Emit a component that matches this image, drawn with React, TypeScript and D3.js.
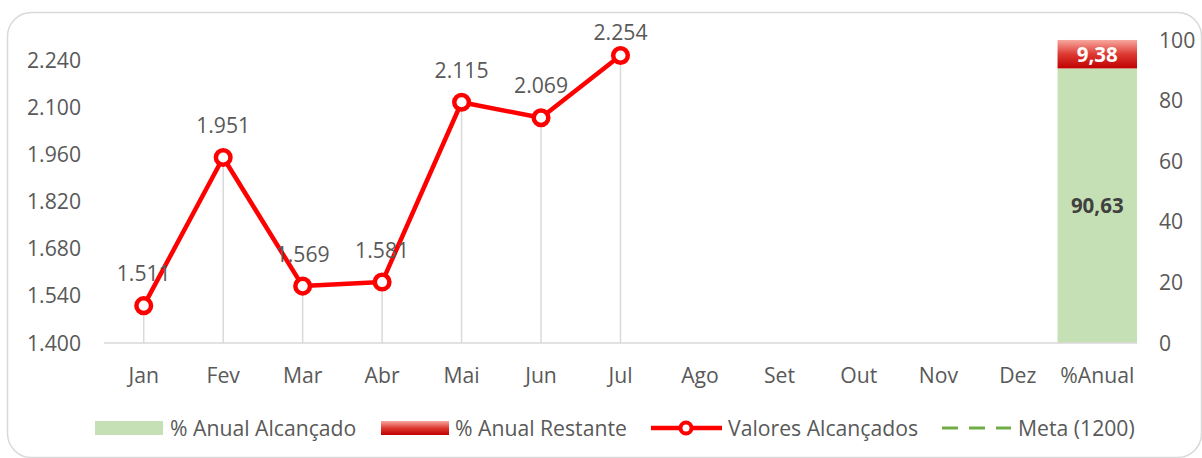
import React from "react";
import * as d3 from "d3";

const categories = ["Jan", "Fev", "Mar", "Abr", "Mai", "Jun", "Jul", "Ago", "Set", "Out", "Nov", "Dez", "%Anual"];
const lineMonths = ["Jan", "Fev", "Mar", "Abr", "Mai", "Jun", "Jul"];
const lineValues = [1511, 1951, 1569, 1581, 2115, 2069, 2254];
const annualReached = 90.63;
const annualRemaining = 9.38;
const meta = 1200;
const leftTicks = [1400, 1540, 1680, 1820, 1960, 2100, 2240];
const rightTicks = [0, 20, 40, 60, 80, 100];

const W = 1202;
const H = 458;
const plotLeft = 104;
const plotRight = 1137;
const plotTop = 40;
const plotBottom = 343;

const FONT = "'Open Sans', 'Liberation Sans', sans-serif";
const GRAY = "#595959";
const FS = 21.2;

const locale = d3.formatLocale({ decimal: ",", thousands: ".", grouping: [3], currency: ["R$", ""] });
const fmtThousands = locale.format(",.0f");
const fmtDec = locale.format(".2f");

export default function App() {
  const x = d3.scaleBand<string>().domain(categories).range([plotLeft, plotRight]).paddingInner(0).paddingOuter(0);
  const yL = d3.scaleLinear().domain([1400, 2300]).range([plotBottom, plotTop]);
  const yR = d3.scaleLinear().domain([0, 100]).range([plotBottom, plotTop]);
  const cx = (c: string) => (x(c) as number) + x.bandwidth() / 2;

  const pts = lineMonths.map((m, i) => [cx(m), yL(lineValues[i])] as [number, number]);
  const linePath = d3.line()(pts) as string;
  const metaVisible = meta >= 1400;

  const barX = x("%Anual") as number;
  const bw = x.bandwidth();
  const gTop = yR(annualReached);
  const rTop = yR(annualReached + annualRemaining);

  return (
    <svg width={W} height={H} style={{ position: "absolute", left: 0, top: 0, background: "#fff" }} fontFamily={FONT}>
      <defs>
        <linearGradient id="redGrad" x1="0" y1="0" x2="0" y2="1">
          <stop offset="0%" stopColor="#f7a89e" />
          <stop offset="50%" stopColor="#dd3a33" />
          <stop offset="100%" stopColor="#c00000" />
        </linearGradient>
      </defs>
      <rect x={7.5} y={12.5} width={1194} height={445} rx={24} ry={24} fill="#fff" stroke="#d9d9d9" strokeWidth={1.5} />

      {leftTicks.map((t) => (
        <text key={"l" + t} x={81} y={yL(t)} dy="0.36em" textAnchor="end" fontSize={FS} fill={GRAY}>
          {fmtThousands(t)}
        </text>
      ))}
      {rightTicks.map((t) => (
        <text key={"r" + t} x={1159} y={yR(t)} dy="0.36em" textAnchor="start" fontSize={FS} fill={GRAY}>
          {t}
        </text>
      ))}

      <rect x={barX} y={gTop} width={bw} height={plotBottom - gTop} fill="#c5e0b4" />
      <rect x={barX} y={rTop} width={bw} height={gTop - rTop} fill="url(#redGrad)" />

      <line x1={plotLeft} x2={plotRight} y1={plotBottom} y2={plotBottom} stroke="#d9d9d9" strokeWidth={1.5} />

      {pts.map((p, i) => (
        <line key={"d" + i} x1={p[0]} x2={p[0]} y1={p[1]} y2={plotBottom} stroke="#d9d9d9" strokeWidth={1.5} />
      ))}

      {metaVisible && (
        <line x1={plotLeft} x2={plotRight} y1={yL(meta)} y2={yL(meta)} stroke="#70ad47" strokeWidth={3} strokeDasharray="16,11" />
      )}

      <path d={linePath} fill="none" stroke="#ff0000" strokeWidth={4.5} strokeLinejoin="round" />
      {pts.map((p, i) => (
        <circle key={"c" + i} cx={p[0]} cy={p[1]} r={7.3} fill="#fff" stroke="#ff0000" strokeWidth={4.5} />
      ))}

      {pts.map((p, i) => (
        <text key={"t" + i} x={p[0]} y={Math.max(p[1] - 32, 32)} dy="0.36em" textAnchor="middle" fontSize={FS} fill={GRAY}>
          {fmtThousands(lineValues[i])}
        </text>
      ))}

      <text x={barX + bw / 2} y={(gTop + plotBottom) / 2} dy="0.36em" textAnchor="middle" fontSize={20.5} fontWeight="bold" fill="#404040">
        {fmtDec(annualReached)}
      </text>
      <text x={barX + bw / 2} y={(rTop + gTop) / 2} dy="0.36em" textAnchor="middle" fontSize={20.5} fontWeight="bold" fill="#fff">
        {fmtDec(annualRemaining)}
      </text>

      {categories.map((c) => (
        <text key={"x" + c} x={cx(c)} y={375} dy="0.36em" textAnchor="middle" fontSize={FS} fill={GRAY}>
          {c}
        </text>
      ))}

      <g fontSize={FS} fill={GRAY}>
        <rect x={95} y={421} width={68} height={14} fill="#c5e0b4" />
        <text x={170} y={428} dy="0.36em">% Anual Alcançado</text>
        <rect x={381} y={421} width={68} height={14} fill="url(#redGrad)" />
        <text x={455} y={428} dy="0.36em">% Anual Restante</text>
        <line x1={651} x2={722} y1={428} y2={428} stroke="#ff0000" strokeWidth={4.5} />
        <circle cx={686} cy={428} r={5.5} fill="#fff" stroke="#ff0000" strokeWidth={4} />
        <text x={728} y={428} dy="0.36em">Valores Alcançados</text>
        <line x1={942} x2={1011} y1={428} y2={428} stroke="#70ad47" strokeWidth={3} strokeDasharray="16,11" />
        <text x={1018} y={428} dy="0.36em">Meta (1200)</text>
      </g>
    </svg>
  );
}
